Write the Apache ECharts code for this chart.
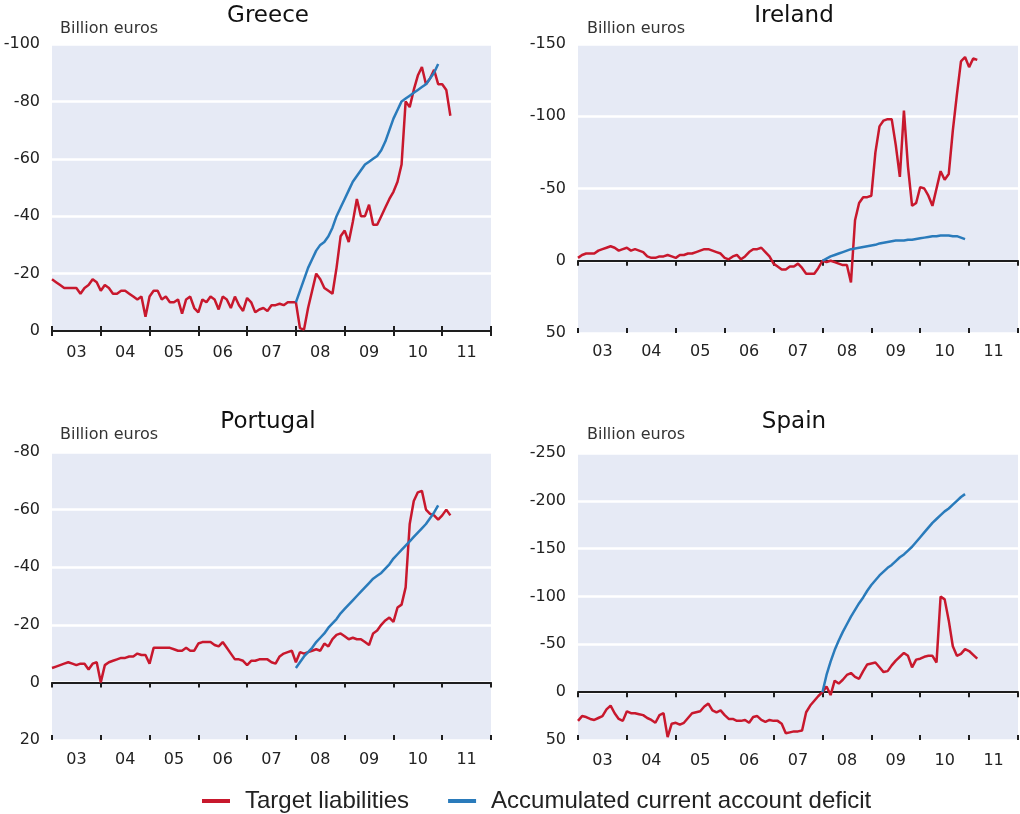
<!DOCTYPE html>
<html>
<head>
<meta charset="utf-8">
<script src="https://cdn.jsdelivr.net/npm/echarts@6/dist/echarts.min.js"></script>
<style>
html,body{margin:0;padding:0;background:#fff;}
#chart{width:1020px;height:814px;}
</style>
</head>
<body>
<div id="chart"></div>
<script>
// ---------- data (billion euros, monthly; target from Jan 2003, deficit from Jan 2008) ----------
const yearLabels = ['03','04','05','06','07','08','09','10','11'];
const targetStartYear = 2003;
const deficitStartYear = 2008;
const panelTitles = ['Greece', 'Ireland', 'Portugal', 'Spain'];
const unitLabel = 'Billion euros';
const seriesNames = ['Target liabilities', 'Accumulated current account deficit'];

const greeceTarget = [
  -18, -17, -16, -15, -15, -15, -15, -13, -15, -16, -18, -17,
  -14, -16, -15, -13, -13, -14, -14, -13, -12, -11, -12, -5,
  -12, -14, -14, -11, -12, -10, -10, -11, -6, -11, -12, -8,
  -6.5, -11, -10, -12, -11, -7.5, -12, -11, -8, -12, -9, -7,
  -11.5, -10, -6.5, -7.5, -8, -7, -9, -9, -9.5, -9, -10, -10,
  -10, -1, -0.5, -8, -14, -20, -18, -15, -14, -13, -22, -33,
  -35, -31, -38, -46, -40, -40, -44, -37, -37, -40, -43, -46,
  -48.5, -52, -58, -80, -78, -84, -89, -92, -86, -88, -91, -86,
  -86, -84, -75
];
const greeceDeficit = [
  -10, -14, -18, -22, -25, -28, -30, -31, -33, -36, -40, -43,
  -46, -49, -52, -54, -56, -58, -59, -60, -61, -63, -66, -70,
  -74, -77, -80, -81, -82, -83, -84, -85, -86, -88, -90, -93
];

const irelandTarget = [
  -2, -4, -5, -5, -5, -7, -8, -9, -10, -9, -7, -8,
  -9, -7, -8, -7, -6, -3, -2, -2, -3, -3, -4, -3,
  -2, -4, -4, -5, -5, -6, -7, -8, -8, -7, -6, -5,
  -2, -1, -3, -4, -1, -3, -6, -8, -8, -9, -6, -3,
  2, 4, 6, 6, 4, 4, 2, 5, 9, 9, 9, 5,
  0, 1, 0, 1, 2, 3, 3, 15, -28, -40, -44, -44,
  -45, -75, -93, -97, -98, -98, -80, -58, -104, -65, -38, -40,
  -51, -50, -45, -38, -50, -62, -56, -60, -90, -115, -138, -141,
  -134, -140, -139
];
const irelandDeficit = [
  0, -1.5, -3, -4, -5, -6, -7, -8, -8.5, -9, -9.5, -10,
  -10.5, -11, -12, -12.5, -13, -13.5, -14, -14, -14, -14.5, -14.5, -15,
  -15.5, -16, -16.5, -17, -17, -17.5, -17.5, -17.5, -17, -17, -16, -15
];

const portugalTarget = [
  -5, -5.5, -6, -6.5, -7, -6.5, -6, -6.5, -6.5, -4.5, -6.5, -7,
  0, -6, -7, -7.5, -8, -8.5, -8.5, -9, -9, -10, -9.5, -9.5,
  -6.5, -12, -12, -12, -12, -12, -11.5, -11, -11, -12, -11, -11,
  -13.5, -14, -14, -14, -13, -12.5, -14, -12, -10, -8, -8, -7.5,
  -6, -7.5, -7.5, -8, -8, -8, -7, -6.5, -9, -10, -10.5, -11,
  -7, -10.5, -10, -10.5, -11, -11.5, -11, -13.5, -12.5, -15, -16.5, -17,
  -16, -15, -15.5, -15, -15, -14, -13, -17, -18, -20, -21.5, -22.5,
  -21, -26, -27, -33, -55, -63, -66, -66.5, -60, -58.5, -58, -56.5,
  -58, -60, -58
];
const portugalDeficit = [
  -5, -7, -9, -10.5, -12, -14, -15.5, -17, -19, -20.5, -22, -24,
  -25.5, -27, -28.5, -30, -31.5, -33, -34.5, -36, -37, -38, -39.5, -41,
  -43, -44.5, -46, -47.5, -49, -50.5, -52, -53.5, -55, -57, -59, -61.5
];

const spainTarget = [
  30, 25, 26, 28, 29, 27, 25, 18, 14, 22, 28, 30,
  20, 22, 22, 23, 24, 27, 29, 32, 24, 22, 47, 33,
  32, 34, 32, 27, 22, 21, 20, 15, 12, 19, 21, 19,
  24, 28, 28, 30, 30, 29, 32, 26, 25, 29, 31, 29,
  30, 30, 33, 43, 42, 41, 41, 40, 21, 14, 9, 4,
  0, -6, 3, -12, -9, -13, -18, -20, -16, -14, -22, -29,
  -30, -31, -26, -21, -22, -28, -33, -37, -41, -38, -26, -34,
  -35, -37, -38, -38, -31, -100, -97, -75, -48, -38, -40, -45,
  -43, -39, -35
];
const spainDeficit = [
  0, -18, -32, -44, -54, -63, -71, -79, -86, -93, -99, -106,
  -112, -117, -122, -126, -130, -133, -137, -141, -144, -148, -152, -157,
  -162, -167, -172, -177, -181, -185, -189, -192, -196, -200, -204, -207
];

// y-axis scales (inverted: liabilities shown upward)
const yMins = [-100, -150, -80, -250];
const yMaxs = [0, 50, 20, 50];
const yIntervals = [20, 50, 20, 50];

const targets = [greeceTarget, irelandTarget, portugalTarget, spainTarget];
const deficits = [greeceDeficit, irelandDeficit, portugalDeficit, spainDeficit];

// ---------- layout / style ----------
const RED = '#c8182d';
const BLUE = '#2a7bbb';
const BG = '#e6eaf5';
const FONT = '"DejaVu Sans", sans-serif';
const grids = [
  {left: 52, top: 44, width: 439, height: 287},
  {left: 578, top: 44, width: 440, height: 289},
  {left: 52, top: 452, width: 439, height: 288},
  {left: 578, top: 453, width: 440, height: 287}
];
const titlePos = [[268, 16], [794, 16], [268, 422], [794, 422]];
const unitPos = [[60, 29], [587, 29], [60, 435], [587, 435]];
const labelMargins = [14, 11, 12, 13];

function toPoints(arr, startYear) {
  return arr.map((v, i) => [startYear + i / 12, v]);
}

const xAxes = [], yAxes = [], series = [], graphics = [];
grids.forEach((g, i) => {
  // zero line with ticks pointing down (data axis)
  xAxes.push({
    type: 'value', gridIndex: i, position: 'bottom', min: 2003, max: 2012, interval: 1,
    axisLine: {show: true, onZero: true, lineStyle: {color: '#1e1e1e', width: 2}},
    axisTick: {show: true, length: 5, inside: false, lineStyle: {color: '#1e1e1e', width: 2}},
    axisLabel: {show: false}, splitLine: {show: false}
  });
  // ticks pointing up
  xAxes.push({
    type: 'value', gridIndex: i, position: 'bottom', min: 2003, max: 2012, interval: 1,
    axisLine: {show: false, onZero: true},
    axisTick: {show: true, length: 5, inside: true, lineStyle: {color: '#1e1e1e', width: 2}},
    axisLabel: {show: false}, splitLine: {show: false}
  });
  // year labels at the bottom
  xAxes.push({
    type: 'category', gridIndex: i, position: 'bottom', data: yearLabels, boundaryGap: true,
    axisLine: {show: false, onZero: false}, axisTick: {show: false}, splitLine: {show: false},
    axisLabel: {show: true, margin: labelMargins[i], color: '#222', fontSize: 16, fontFamily: FONT, interval: 0}
  });
  yAxes.push({
    type: 'value', gridIndex: i, inverse: true, min: yMins[i], max: yMaxs[i], interval: yIntervals[i],
    axisLine: {show: false}, axisTick: {show: false},
    axisLabel: {color: '#222', fontSize: 16, fontFamily: FONT, margin: 12},
    splitLine: {show: true, lineStyle: {color: '#ffffff', width: 2.5}}
  });
  series.push({
    name: seriesNames[0], type: 'line', xAxisIndex: i * 3, yAxisIndex: i,
    data: toPoints(targets[i], targetStartYear), showSymbol: false, symbol: 'none',
    lineStyle: {color: RED, width: 2.5}, itemStyle: {color: RED}, z: 3
  });
  series.push({
    name: seriesNames[1], type: 'line', xAxisIndex: i * 3, yAxisIndex: i,
    data: toPoints(deficits[i], deficitStartYear), showSymbol: false, symbol: 'none',
    lineStyle: {color: BLUE, width: 2.5}, itemStyle: {color: BLUE}, z: 4
  });
  graphics.push({
    type: 'text', x: titlePos[i][0], y: titlePos[i][1],
    style: {text: panelTitles[i], fill: '#111', font: '23px ' + FONT, textAlign: 'center', textVerticalAlign: 'middle'}
  });
  graphics.push({
    type: 'text', x: unitPos[i][0], y: unitPos[i][1],
    style: {text: unitLabel, fill: '#333', font: '16px ' + FONT, textAlign: 'left', textVerticalAlign: 'middle'}
  });
});

const chart = echarts.init(document.getElementById('chart'), null, {renderer: 'canvas'});
chart.setOption({
  animation: false,
  backgroundColor: '#ffffff',
  grid: grids.map(g => Object.assign({show: true, backgroundColor: BG, borderWidth: 0, containLabel: false}, g)),
  xAxis: xAxes,
  yAxis: yAxes,
  legend: {
    data: seriesNames, left: 197, top: 784, icon: 'rect', itemWidth: 28, itemHeight: 4, itemGap: 39,
    textStyle: {fontSize: 24, color: '#222', fontFamily: '"Liberation Sans", Arial, sans-serif', padding: [0, 0, 0, 10]}
  },
  series: series,
  graphic: graphics
});
</script>
</body>
</html>
